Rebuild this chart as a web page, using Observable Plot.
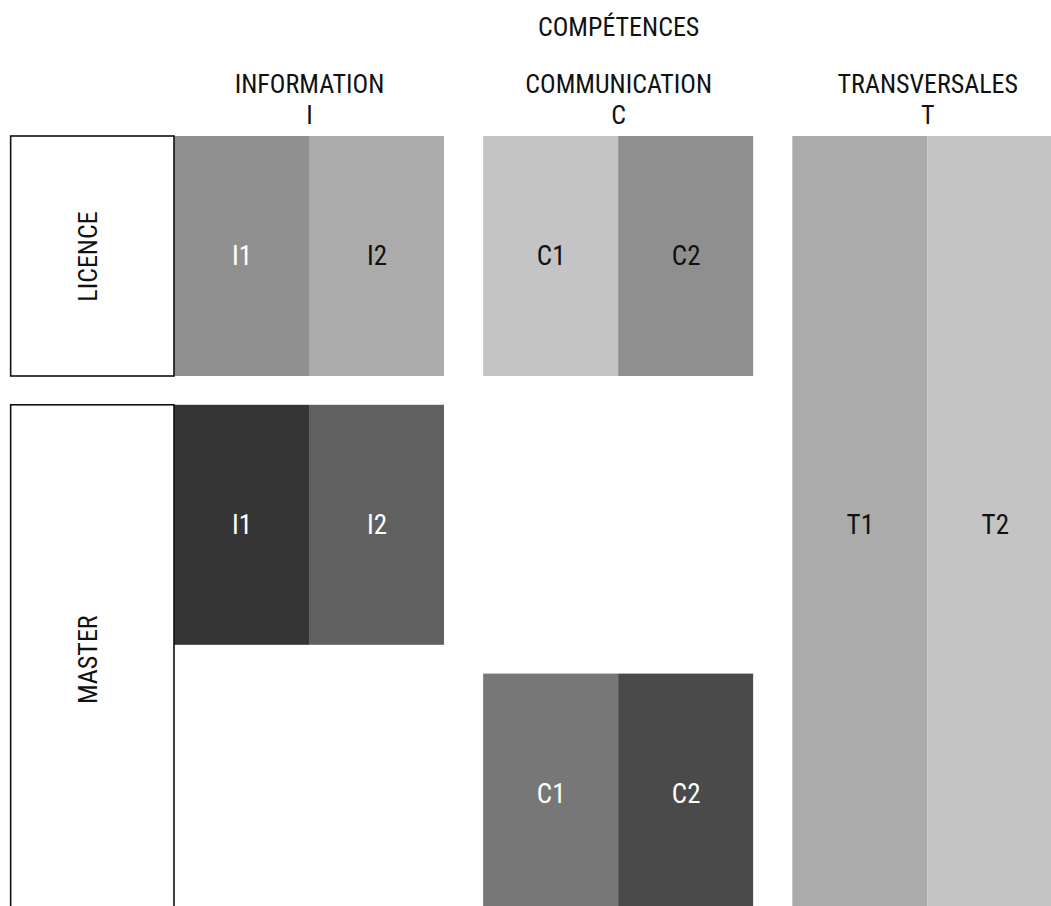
<!DOCTYPE html>
<html>
<head>
<meta charset="utf-8">
<script src="https://cdn.jsdelivr.net/npm/d3@7"></script>
<script src="https://cdn.jsdelivr.net/npm/@observablehq/plot@0.6"></script>
<style>
  html, body { margin: 0; padding: 0; background: #fff; }
  #chart { width: 1051px; height: 906px; overflow: hidden; }
</style>
</head>
<body>
<div id="chart"></div>
<script>
// ---- data ----
const title = "COMPÉTENCES";
const levels = ["LICENCE", "MASTER"];
const levelRowStart = [0, 1];
const levelRowEnd = [1, 3];

const groupCodes = ["I", "C", "T"];
const groupNames = ["INFORMATION", "COMMUNICATION", "TRANSVERSALES"];
const subCodes = ["1", "2"];

// blocks of competences: group, first row, last row (row units, one per level slot)
const blockGroup = ["I", "C", "I", "C", "T"];
const blockRowStart = [0, 0, 1, 2, 0];
const blockRowEnd = [1, 1, 2, 3, 3];

// ---- styles ----
const blockFill = [
  ["#8f8f8f", "#ababab"],
  ["#c4c4c4", "#8f8f8f"],
  ["#353535", "#606060"],
  ["#777777", "#4a4a4a"],
  ["#ababab", "#c4c4c4"]
];
const blockText = [
  ["#ffffff", "#111111"],
  ["#111111", "#111111"],
  ["#ffffff", "#ffffff"],
  ["#ffffff", "#ffffff"],
  ["#111111", "#111111"]
];
const font = "'Liberation Sans Narrow', 'Roboto Condensed', 'DejaVu Sans Condensed', 'Arial Narrow', sans-serif";
const gapX = 0.29;   // gap between groups, in sub-column units
const gapY = 0.12;   // gap between level slots, in row units
const boxWidth = 1.21;

// ---- layout helpers ----
const groupStart = g => groupCodes.indexOf(g) * (2 + gapX);
const rowTop = r => r * (1 + gapY);
const rowBottom = r => r * (1 + gapY) - gapY;

const cells = [];
blockGroup.forEach((g, i) => {
  subCodes.forEach((s, j) => {
    cells.push({
      label: g + s,
      x1: groupStart(g) + j,
      x2: groupStart(g) + j + 1,
      y1: rowTop(blockRowStart[i]),
      y2: rowBottom(blockRowEnd[i]),
      fill: blockFill[i][j],
      text: blockText[i][j]
    });
  });
});

const levelBoxes = levels.map((l, i) => ({
  label: l,
  x1: -boxWidth,
  x2: 0,
  y1: rowTop(levelRowStart[i]),
  y2: rowBottom(levelRowEnd[i])
}));

const headers = groupCodes.map((c, i) => ({
  code: c,
  name: groupNames[i],
  x: groupStart(c) + 1
}));

const pxPerX = 135, pxPerY = 240, originX = 174, originY = 136;
const W = 1051, H = 906;

const chart = Plot.plot({
  width: W,
  height: H,
  margin: 0,
  style: { fontFamily: font, background: "#fff", overflow: "hidden" },
  x: { domain: [-originX / pxPerX, (W - originX) / pxPerX], range: [0, W], axis: null },
  y: { domain: [-originY / pxPerY, (H - originY) / pxPerY], range: [0, H], axis: null },
  color: { type: "identity" },
  marks: [
    Plot.rect(cells, { x1: "x1", x2: "x2", y1: "y1", y2: "y2", fill: "fill" }),
    Plot.rect(levelBoxes, { x1: "x1", x2: "x2", y1: "y1", y2: "y2", fill: "#fff", stroke: "#111", strokeWidth: 1.6 }),
    Plot.text(cells, {
      x: d => (d.x1 + d.x2) / 2,
      y: d => (d.y1 + Math.min(d.y2, (H - originY) / pxPerY + 0.03)) / 2,
      text: "label", fill: "text", fontSize: 27, fontFamily: font
    }),
    Plot.text(levelBoxes, {
      x: d => (d.x1 + d.x2) / 2,
      y: d => (d.y1 + d.y2) / 2,
      dx: -4,
      text: "label", rotate: -90, fill: "#111", fontSize: 26, fontFamily: font
    }),
    Plot.text(headers, { x: "x", y: () => 0, dy: -52, text: "name", fill: "#111", fontSize: 26, fontFamily: font }),
    Plot.text(headers, { x: "x", y: () => 0, dy: -21, text: "code", fill: "#111", fontSize: 26, fontFamily: font }),
    Plot.text([title], { x: () => groupStart("C") + 1, y: () => 0, dy: -109, text: d => d, fill: "#111", fontSize: 26, fontFamily: font })
  ]
});
document.getElementById("chart").append(chart);
</script>
</body>
</html>
